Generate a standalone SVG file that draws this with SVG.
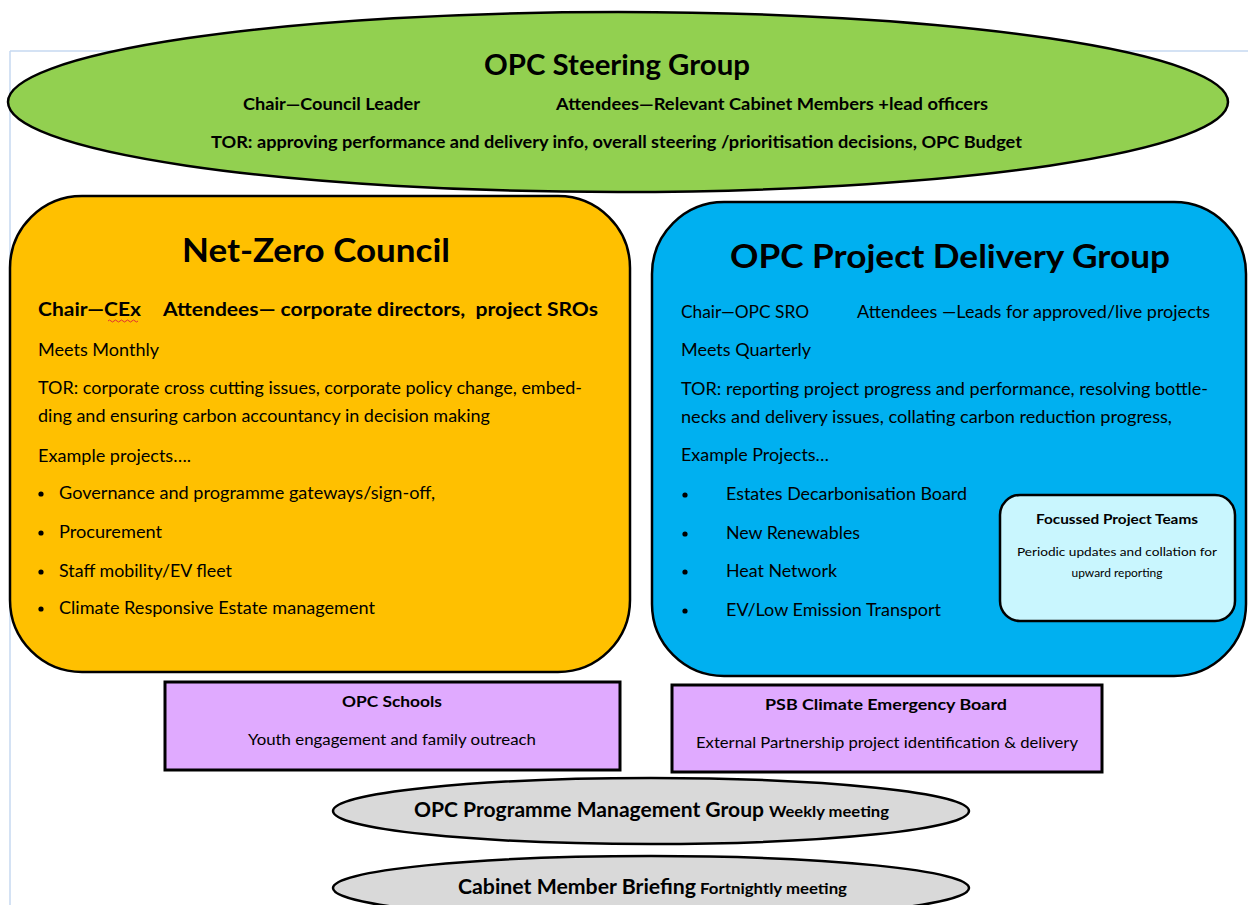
<svg xmlns="http://www.w3.org/2000/svg" width="1248" height="905" viewBox="0 0 1248 905">
<style>
text{font-family:Lato,"Open Sans","Liberation Sans",sans-serif;fill:#000}
.b{font-weight:bold}
.t{font-size:17px}
.sh{stroke:#000;stroke-width:2.5}
</style>
<rect width="1248" height="905" fill="#fff"/>
<path d="M10 51H1248M10 51V905" stroke="#c6d9f1" stroke-width="1.5" fill="none"/>
<g id="steering">
<ellipse cx="618" cy="102" rx="610" ry="90" fill="#92d050" class="sh"/>
<text x="617" y="75" text-anchor="middle" class="b" font-size="28" textLength="266" lengthAdjust="spacingAndGlyphs">OPC Steering Group</text>
<text x="243" y="110" class="b t" textLength="177" lengthAdjust="spacingAndGlyphs">Chair—Council Leader</text>
<text x="556" y="110" class="b t" textLength="432" lengthAdjust="spacingAndGlyphs">Attendees—Relevant Cabinet Members +lead officers</text>
<text x="211" y="148" class="b t" textLength="811" lengthAdjust="spacingAndGlyphs">TOR: approving performance and delivery info, overall steering /prioritisation decisions, OPC Budget</text>
</g>
<g id="netzero">
<rect x="10" y="196" width="620" height="476" rx="72" fill="#ffc000" class="sh"/>
<text x="316" y="262" text-anchor="middle" class="b" font-size="33" textLength="268" lengthAdjust="spacingAndGlyphs">Net-Zero Council</text>
<text x="38" y="316" class="b" font-size="19" textLength="103" lengthAdjust="spacingAndGlyphs">Chair—CEx</text>
<text x="163" y="316" class="b" font-size="19" textLength="435" lengthAdjust="spacingAndGlyphs" style="white-space:pre">Attendees— corporate directors,  project SROs</text>
<path d="M108 321q1.5-2 3 0t3 0 3 0 3 0 3 0 3 0 3 0 3 0 3 0 3 0" stroke="#e03030" stroke-width="1" fill="none"/>
<text x="38" y="356" class="t" textLength="121" lengthAdjust="spacingAndGlyphs">Meets Monthly</text>
<text x="38" y="394" class="t" textLength="544" lengthAdjust="spacingAndGlyphs">TOR: corporate cross cutting issues, corporate policy change, embed-</text>
<text x="38" y="422" class="t" textLength="452" lengthAdjust="spacingAndGlyphs">ding and ensuring carbon accountancy in decision making</text>
<text x="38" y="462" class="t" textLength="153" lengthAdjust="spacingAndGlyphs">Example projects….</text>
<circle cx="41" cy="494" r="2.6"/><text x="59" y="499" class="t" textLength="376" lengthAdjust="spacingAndGlyphs">Governance and programme gateways/sign-off,</text>
<circle cx="41" cy="533" r="2.6"/><text x="59" y="538" class="t" textLength="103" lengthAdjust="spacingAndGlyphs">Procurement</text>
<circle cx="41" cy="572" r="2.6"/><text x="59" y="577" class="t" textLength="173" lengthAdjust="spacingAndGlyphs">Staff mobility/EV fleet</text>
<circle cx="41" cy="609" r="2.6"/><text x="59" y="614" class="t" textLength="316" lengthAdjust="spacingAndGlyphs">Climate Responsive Estate management</text>
</g>
<g id="delivery">
<rect x="652" y="202" width="594" height="474" rx="72" fill="#00b0f0" class="sh"/>
<text x="950" y="268" text-anchor="middle" class="b" font-size="33" textLength="440" lengthAdjust="spacingAndGlyphs">OPC Project Delivery Group</text>
<text x="681" y="318" class="t" textLength="128" lengthAdjust="spacingAndGlyphs">Chair—OPC SRO</text>
<text x="857" y="318" class="t" textLength="353" lengthAdjust="spacingAndGlyphs">Attendees —Leads for approved/live projects</text>
<text x="681" y="356" class="t" textLength="130" lengthAdjust="spacingAndGlyphs">Meets Quarterly</text>
<text x="681" y="395" class="t" textLength="527" lengthAdjust="spacingAndGlyphs">TOR: reporting project progress and performance, resolving bottle-</text>
<text x="681" y="423" class="t" textLength="491" lengthAdjust="spacingAndGlyphs">necks and delivery issues, collating carbon reduction progress,</text>
<text x="681" y="461" class="t" textLength="148" lengthAdjust="spacingAndGlyphs">Example Projects…</text>
<circle cx="685" cy="495" r="2.6"/><text x="726" y="500" class="t" textLength="241" lengthAdjust="spacingAndGlyphs">Estates Decarbonisation Board</text>
<circle cx="685" cy="534" r="2.6"/><text x="726" y="539" class="t" textLength="134" lengthAdjust="spacingAndGlyphs">New Renewables</text>
<circle cx="685" cy="572" r="2.6"/><text x="726" y="577" class="t" textLength="111" lengthAdjust="spacingAndGlyphs">Heat Network</text>
<circle cx="685" cy="611" r="2.6"/><text x="726" y="616" class="t" textLength="215" lengthAdjust="spacingAndGlyphs">EV/Low Emission Transport</text>
</g>
<g id="focussed">
<rect x="1000" y="495" width="235" height="126" rx="20" fill="#c9f6fe" class="sh"/>
<text x="1117" y="524" text-anchor="middle" class="b" font-size="14" textLength="162" lengthAdjust="spacingAndGlyphs">Focussed Project Teams</text>
<text x="1117" y="556" text-anchor="middle" font-size="12" textLength="200" lengthAdjust="spacingAndGlyphs">Periodic updates and collation for</text>
<text x="1117" y="577" text-anchor="middle" font-size="12" textLength="91" lengthAdjust="spacingAndGlyphs">upward reporting</text>
</g>
<g id="schools">
<rect x="165" y="682" width="455" height="88" fill="#e0aaff" stroke="#000" stroke-width="3"/>
<text x="392" y="707" text-anchor="middle" class="b" font-size="16" textLength="100" lengthAdjust="spacingAndGlyphs">OPC Schools</text>
<text x="392" y="745" text-anchor="middle" font-size="15" textLength="288" lengthAdjust="spacingAndGlyphs">Youth engagement and family outreach</text>
</g>
<g id="psb">
<rect x="672" y="685" width="430" height="87" fill="#e0aaff" stroke="#000" stroke-width="3"/>
<text x="886" y="710" text-anchor="middle" class="b" font-size="16" textLength="242" lengthAdjust="spacingAndGlyphs">PSB Climate Emergency Board</text>
<text x="887" y="748" text-anchor="middle" font-size="15" textLength="382" lengthAdjust="spacingAndGlyphs">External Partnership project identification &amp; delivery</text>
</g>
<g id="pmg">
<ellipse cx="651" cy="811" rx="318" ry="33" fill="#d9d9d9" class="sh"/>
<text x="414" y="817" class="b" font-size="20" textLength="350" lengthAdjust="spacingAndGlyphs">OPC Programme Management Group</text>
<text x="769" y="817" class="b" font-size="15" textLength="120" lengthAdjust="spacingAndGlyphs">Weekly meeting</text>
</g>
<g id="cabinet">
<ellipse cx="651" cy="888" rx="318" ry="32" fill="#d9d9d9" class="sh"/>
<text x="458" y="894" class="b" font-size="20" textLength="238" lengthAdjust="spacingAndGlyphs">Cabinet Member Briefing</text>
<text x="700" y="894" class="b" font-size="15" textLength="147" lengthAdjust="spacingAndGlyphs">Fortnightly meeting</text>
</g>
<g id="connectors"/>
</svg>
